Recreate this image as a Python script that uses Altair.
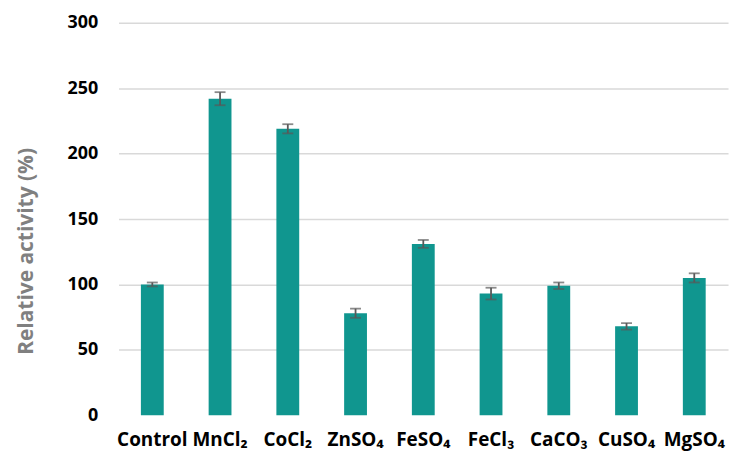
import altair as alt
import pandas as pd

categories = ["Control", "MnCl₂", "CoCl₂", "ZnSO₄", "FeSO₄", "FeCl₃", "CaCO₃", "CuSO₄", "MgSO₄"]
activity = [100, 242, 219, 78, 131, 93, 99, 68, 105]
error = [1.5, 5, 3.5, 3.5, 3, 4.5, 2.5, 2.5, 3.5]
y_ticks = [0, 50, 100, 150, 200, 250, 300]

df = pd.DataFrame({"cat": categories, "val": activity, "err": error})
df["lo"] = df["val"] - df["err"]
df["hi"] = df["val"] + df["err"]

FONT = "Open Sans"

x_enc = alt.X(
    "cat:N",
    sort=categories,
    scale=alt.Scale(paddingInner=0.663, paddingOuter=0.33),
    axis=alt.Axis(
        title=None, labelAngle=0, ticks=False, domain=False,
        labelFont=FONT, labelFontSize=19, labelFontWeight="bold",
        labelColor="#000000", labelPadding=15, labelLimit=200,
    ),
)

y_scale = alt.Scale(domain=[0, 300], nice=False)

bars = alt.Chart(df).mark_bar(color="#10968f").encode(
    x=x_enc,
    y=alt.Y(
        "val:Q",
        scale=y_scale,
        axis=alt.Axis(
            values=y_ticks, title="Relative activity (%)",
            ticks=False, domain=False, tickSize=0,
            grid=True,
            gridColor={"condition": {"test": "datum.value === 0", "value": "#ffffff"}, "value": "#d9d9d9"},
            gridWidth=1.5,
            labelFont=FONT, labelFontSize=18, labelFontWeight="bold",
            labelColor="#000000", labelPadding=21,
            titleFont=FONT, titleFontSize=21, titleFontWeight="bold",
            titleColor="#808080", titleX=-86, titleY=229,
            titleAlign="center", titleBaseline="alphabetic", titleAngle=270,
        ),
    ),
)

stems = alt.Chart(df).mark_rule(color="#595959", strokeWidth=1.8).encode(
    x=alt.X("cat:N", sort=categories),
    y=alt.Y("lo:Q", scale=y_scale),
    y2="hi:Q",
)

caps_hi = alt.Chart(df).mark_tick(color="#595959", thickness=1.8, size=11).encode(
    x=alt.X("cat:N", sort=categories),
    y=alt.Y("hi:Q", scale=y_scale),
)

caps_lo = alt.Chart(df).mark_tick(color="#595959", thickness=1.8, size=11).encode(
    x=alt.X("cat:N", sort=categories),
    y=alt.Y("lo:Q", scale=y_scale),
)

chart = alt.layer(bars, stems, caps_hi, caps_lo).properties(
    width=612,
    height=394,
    background="#ffffff",
    autosize=alt.AutoSizeParams(type="none"),
    padding={"left": 111, "top": 14, "right": 10, "bottom": 36},
).configure_view(stroke=None)

chart.save("out.html", embed_options={"renderer": "svg", "actions": False})
